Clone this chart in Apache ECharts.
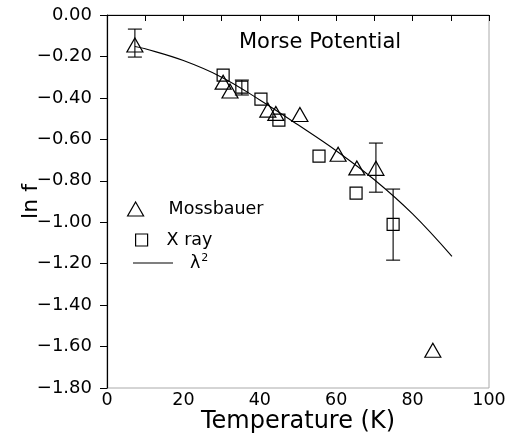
<!DOCTYPE html>
<html>
<head>
<meta charset="utf-8">
<script src="https://cdn.jsdelivr.net/npm/echarts@6/dist/echarts.min.js"></script>
<style>
  html, body { margin: 0; padding: 0; background: #fff; }
  #chart { width: 508px; height: 438px; }
</style>
</head>
<body>
<div id="chart"></div>
<script>
// Mossbauer points (triangles)
const mossX = [7.3, 30.4, 32.2, 42.1, 44.2, 50.5, 60.5, 65.4, 70.4, 85.3];
const mossY = [-0.145, -0.324, -0.367, -0.459, -0.475, -0.48, -0.672, -0.738, -0.74, -1.618];
// X ray points (squares)
const xrayX = [30.4, 35.3, 40.3, 45.0, 55.5, 65.2, 74.9];
const xrayY = [-0.29, -0.348, -0.406, -0.507, -0.681, -0.86, -1.01];
// error bars
const errX = [7.3, 35.3, 70.4, 74.9];
const errLo = [-0.203, -0.386, -0.855, -1.183];
const errHi = [-0.068, -0.314, -0.618, -0.84];
// lambda^2 fit curve
const fitX = [7.3, 10, 20, 30, 40, 50, 60, 70, 80, 90.3];
const fitY = [-0.152, -0.163, -0.22, -0.30, -0.41, -0.53, -0.655, -0.795, -0.96, -1.165];

const font = 'DejaVu Sans';
const zip = (a, b) => a.map((v, i) => [v, b[i]]);
const symStyle = { color: '#fff', opacity: 1, borderColor: '#000', borderWidth: 1.2 };
const legText = { fontFamily: font, fontSize: 17.5, color: '#000' };

const chart = echarts.init(document.getElementById('chart'));
chart.setOption({
  animation: false,
  backgroundColor: '#fff',
  textStyle: { fontFamily: font, color: '#000' },
  title: {
    text: 'Morse Potential',
    left: 234, top: 27,
    textStyle: { fontFamily: font, fontSize: 21, fontWeight: 'normal', color: '#000' }
  },
  grid: {
    left: 107, right: 19, top: 15, bottom: 50,
    outerBoundsMode: 'none',
    show: true, borderColor: '#aaa', borderWidth: 1
  },
  legend: [
    {
      data: ['Mossbauer'], orient: 'vertical', left: 122, top: 195,
      itemWidth: 16, itemHeight: 14, itemStyle: symStyle,
      textStyle: Object.assign({ padding: [0, 0, 0, 20] }, legText)
    },
    {
      data: ['X ray'], orient: 'vertical', left: 130, top: 226,
      itemWidth: 12, itemHeight: 12, itemStyle: symStyle,
      textStyle: Object.assign({ padding: [0, 0, 0, 14] }, legText)
    },
    {
      data: [{ name: 'lambda', icon: 'rect' }], orient: 'vertical', left: 128, top: 248,
      itemWidth: 40, itemHeight: 1,
      itemStyle: { color: '#000', borderWidth: 0 },
      formatter: () => 'λ{s|2}',
      textStyle: Object.assign({
        padding: [0, 0, 0, 12],
        rich: { s: { fontFamily: font, fontSize: 11, color: '#000', verticalAlign: 'top', padding: [0, 0, 9, 1] } }
      }, legText)
    }
  ],
  xAxis: {
    type: 'value', min: 0, max: 100, interval: 20,
    name: 'Temperature (K)', nameLocation: 'middle', nameGap: 22, nameMoveOverlap: false,
    nameTextStyle: { fontFamily: font, fontSize: 24, color: '#000' },
    axisLine: { lineStyle: { color: '#000', width: 1.2 } },
    axisTick: { length: 6, lineStyle: { color: '#000' } },
    minorTick: { show: true, splitNumber: 2, length: 6, lineStyle: { color: '#000' } },
    axisLabel: { margin: 3, fontFamily: font, fontSize: 17.5, color: '#000' },
    splitLine: { show: false }
  },
  yAxis: {
    type: 'value', min: -1.8, max: 0, interval: 0.2,
    name: 'ln f', nameLocation: 'middle', nameGap: 65, nameRotate: 90, nameMoveOverlap: false,
    nameTextStyle: { fontFamily: font, fontSize: 22, color: '#000' },
    axisLine: { lineStyle: { color: '#000', width: 1.2 } },
    axisTick: { length: 7, lineStyle: { color: '#000' } },
    axisLabel: {
      margin: 15, fontFamily: font, fontSize: 18, color: '#000',
      formatter: v => v.toFixed(2).replace('-', '−')
    },
    splitLine: { show: false }
  },
  series: [
    {
      name: 'lambda', type: 'line', data: zip(fitX, fitY), smooth: 0.4,
      symbol: 'none', lineStyle: { color: '#000', width: 1.1 }, z: 2
    },
    {
      name: 'errors', type: 'custom', z: 3,
      data: errX.map((x, i) => [x, errLo[i], errHi[i]]),
      renderItem: (params, api) => {
        const lo = api.coord([api.value(0), api.value(1)]);
        const hi = api.coord([api.value(0), api.value(2)]);
        const w = 7;
        const st = { stroke: '#000', lineWidth: 1.1 };
        return {
          type: 'group',
          children: [
            { type: 'line', shape: { x1: lo[0], y1: lo[1], x2: hi[0], y2: hi[1] }, style: st },
            { type: 'line', shape: { x1: lo[0] - w, y1: lo[1], x2: lo[0] + w, y2: lo[1] }, style: st },
            { type: 'line', shape: { x1: hi[0] - w, y1: hi[1], x2: hi[0] + w, y2: hi[1] }, style: st }
          ]
        };
      }
    },
    {
      name: 'Mossbauer', type: 'scatter', data: zip(mossX, mossY),
      symbol: 'triangle', symbolSize: [16, 14], z: 4,
      itemStyle: { color: 'rgba(255,255,255,0)', opacity: 1, borderColor: '#000', borderWidth: 1.2 }
    },
    {
      name: 'X ray', type: 'scatter', data: zip(xrayX, xrayY),
      symbol: 'rect', symbolSize: 12, z: 4,
      itemStyle: { color: 'rgba(255,255,255,0)', opacity: 1, borderColor: '#000', borderWidth: 1.2 }
    }
  ]
});
</script>
</body>
</html>
